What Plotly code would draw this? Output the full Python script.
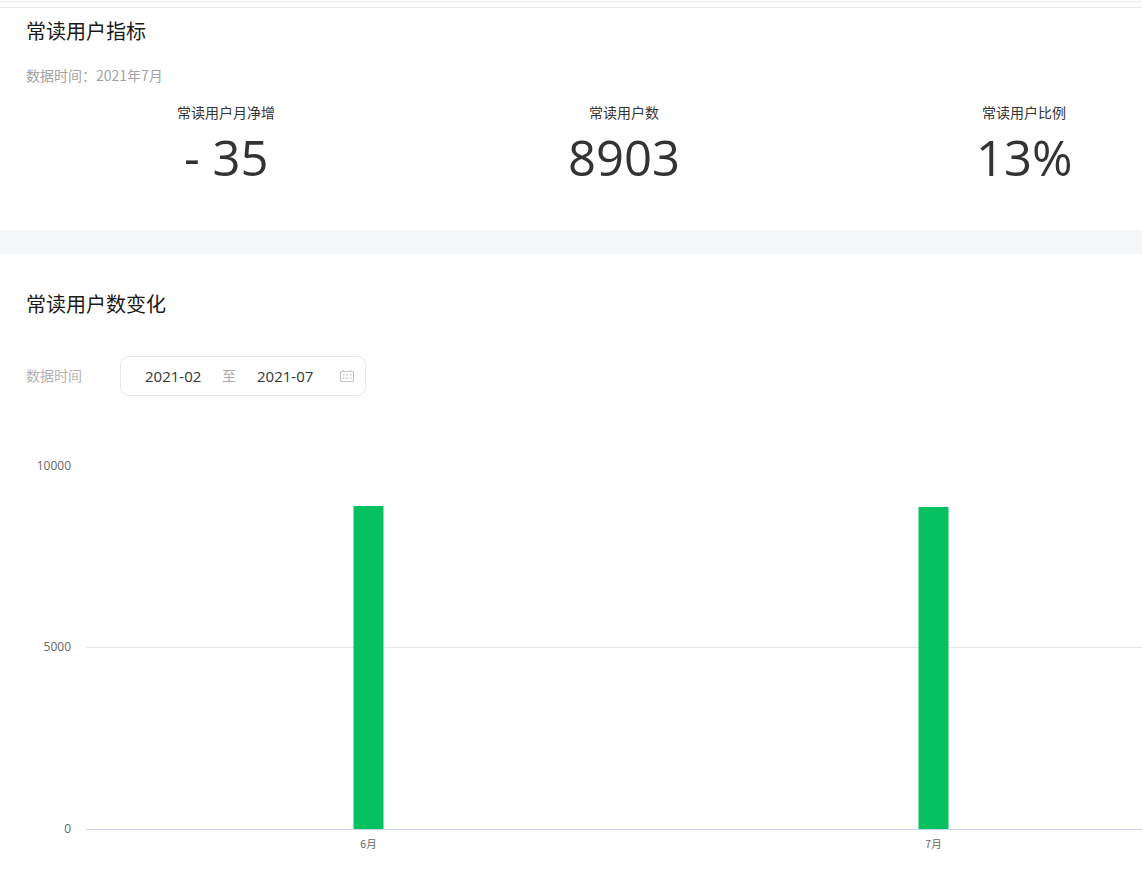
import plotly.graph_objects as go

W, H = 1142, 884
months = ["6月", "7月"]
readers = [8886, 8858]
y_ticks = [0, 5000, 10000]
metric_labels = ["常读用户月净增", "常读用户数", "常读用户比例"]
metric_values = ["- 35", "8903", "13%"]
metric_centers = [226, 624, 1024]
CJK = "'Noto Sans CJK SC', 'Microsoft YaHei', sans-serif"
NUM = "'Open Sans', 'Noto Sans CJK SC', sans-serif"


def px(x):
    return x / W


def py(y):
    return 1 - y / H


fig = go.Figure(go.Bar(x=months, y=readers, width=30 / 565, marker=dict(color="#07c160", line=dict(width=0))))


def text(x, y, s, size, color, anchor="left", weight=400, family=CJK):
    fig.add_annotation(x=px(x), y=py(y), xref="paper", yref="paper", text=s, showarrow=False,
                       xanchor=anchor, yanchor="middle", align=anchor,
                       font=dict(family=family, size=size, color=color, weight=weight),
                       borderpad=0, borderwidth=0)


def rect(x0, y0, x1, y1, fill, line=None):
    fig.add_shape(type="rect", xref="paper", yref="paper", x0=px(x0), x1=px(x1), y0=py(y0), y1=py(y1),
                  fillcolor=fill, line=dict(width=1 if line else 0, color=line or fill), layer="below")


# page furniture
rect(0, 1, W, 2, "#e9e9e9")
rect(0, 7, W, 8, "#e7e7e7")
rect(0, 230, W, 254, "#f5f6f8")

text(26, 30.5, "常读用户指标", 20, "#1a1a1a")
text(26, 75, "数据时间：2021年7月", 14, "#a3a3a3")
for c, lab, val in zip(metric_centers, metric_labels, metric_values):
    text(c, 112, lab, 14, "#353535", "center")
    text(c, 156.5, val, 49, "#333333", "center", 400, NUM)

text(26, 303.5, "常读用户数变化", 20, "#1a1a1a")
text(26, 375, "数据时间", 14, "#b2b2b2")

# date range control
x0, x1, y0, y1, r = 120.5, 365.5, 356.5, 395.5, 9
path = (f"M {px(x0 + r)} {py(y0)} L {px(x1 - r)} {py(y0)} Q {px(x1)} {py(y0)} {px(x1)} {py(y0 + r)} "
        f"L {px(x1)} {py(y1 - r)} Q {px(x1)} {py(y1)} {px(x1 - r)} {py(y1)} L {px(x0 + r)} {py(y1)} "
        f"Q {px(x0)} {py(y1)} {px(x0)} {py(y1 - r)} L {px(x0)} {py(y0 + r)} Q {px(x0)} {py(y0)} {px(x0 + r)} {py(y0)} Z")
fig.add_shape(type="path", path=path, xref="paper", yref="paper", line=dict(color="#e7e7e7", width=1),
              fillcolor="white", layer="below")
text(173, 375.5, "2021-02", 15, "#353535", "center", family=NUM)
text(229, 375, "至", 14, "#a8a8a8", "center")
text(285, 375.5, "2021-07", 15, "#353535", "center", family=NUM)
# calendar icon
rect(340.5, 371.5, 353.5, 381.5, "white", "#c4c4c4")
for ix in (343, 350):
    rect(ix, 370, ix + 1, 372, "#c4c4c4")
for ix in (343, 346.5, 350):
    rect(ix, 374, ix + 1.5, 375.5, "#c8c8c8")
    rect(ix, 377.5, ix + 1.5, 379, "#c8c8c8")

fig.update_layout(
    width=W, height=H, autosize=False, showlegend=False,
    margin=dict(l=0, r=0, t=0, b=0, pad=0),
    paper_bgcolor="white", plot_bgcolor="white",
    font=dict(family=CJK),
    xaxis=dict(domain=[px(86), 1], type="category", range=[-0.5, -0.5 + (W - 86) / 565], automargin=False,
               categoryorder="array", categoryarray=months, showgrid=False, zeroline=False,
               showline=True, linecolor="#ccd6eb", linewidth=1, ticks="", ticklabelstandoff=5,
               tickfont=dict(size=10.5, color="#666666")),
    yaxis=dict(domain=[py(829), py(465.5)], range=[0, 10000], tickvals=y_ticks, ticktext=[str(v) for v in y_ticks],
               automargin=False,
               showgrid=True, gridcolor="#e6e6e6", gridwidth=1, zeroline=False, showline=False, ticks="",
               ticklabelstandoff=14, tickfont=dict(size=12, color="#666666", family=NUM)),
)
fig.write_html("out.html", config={"displayModeBar": False},
               post_script="document.body.style.margin='0';document.body.style.overflow='hidden';")
